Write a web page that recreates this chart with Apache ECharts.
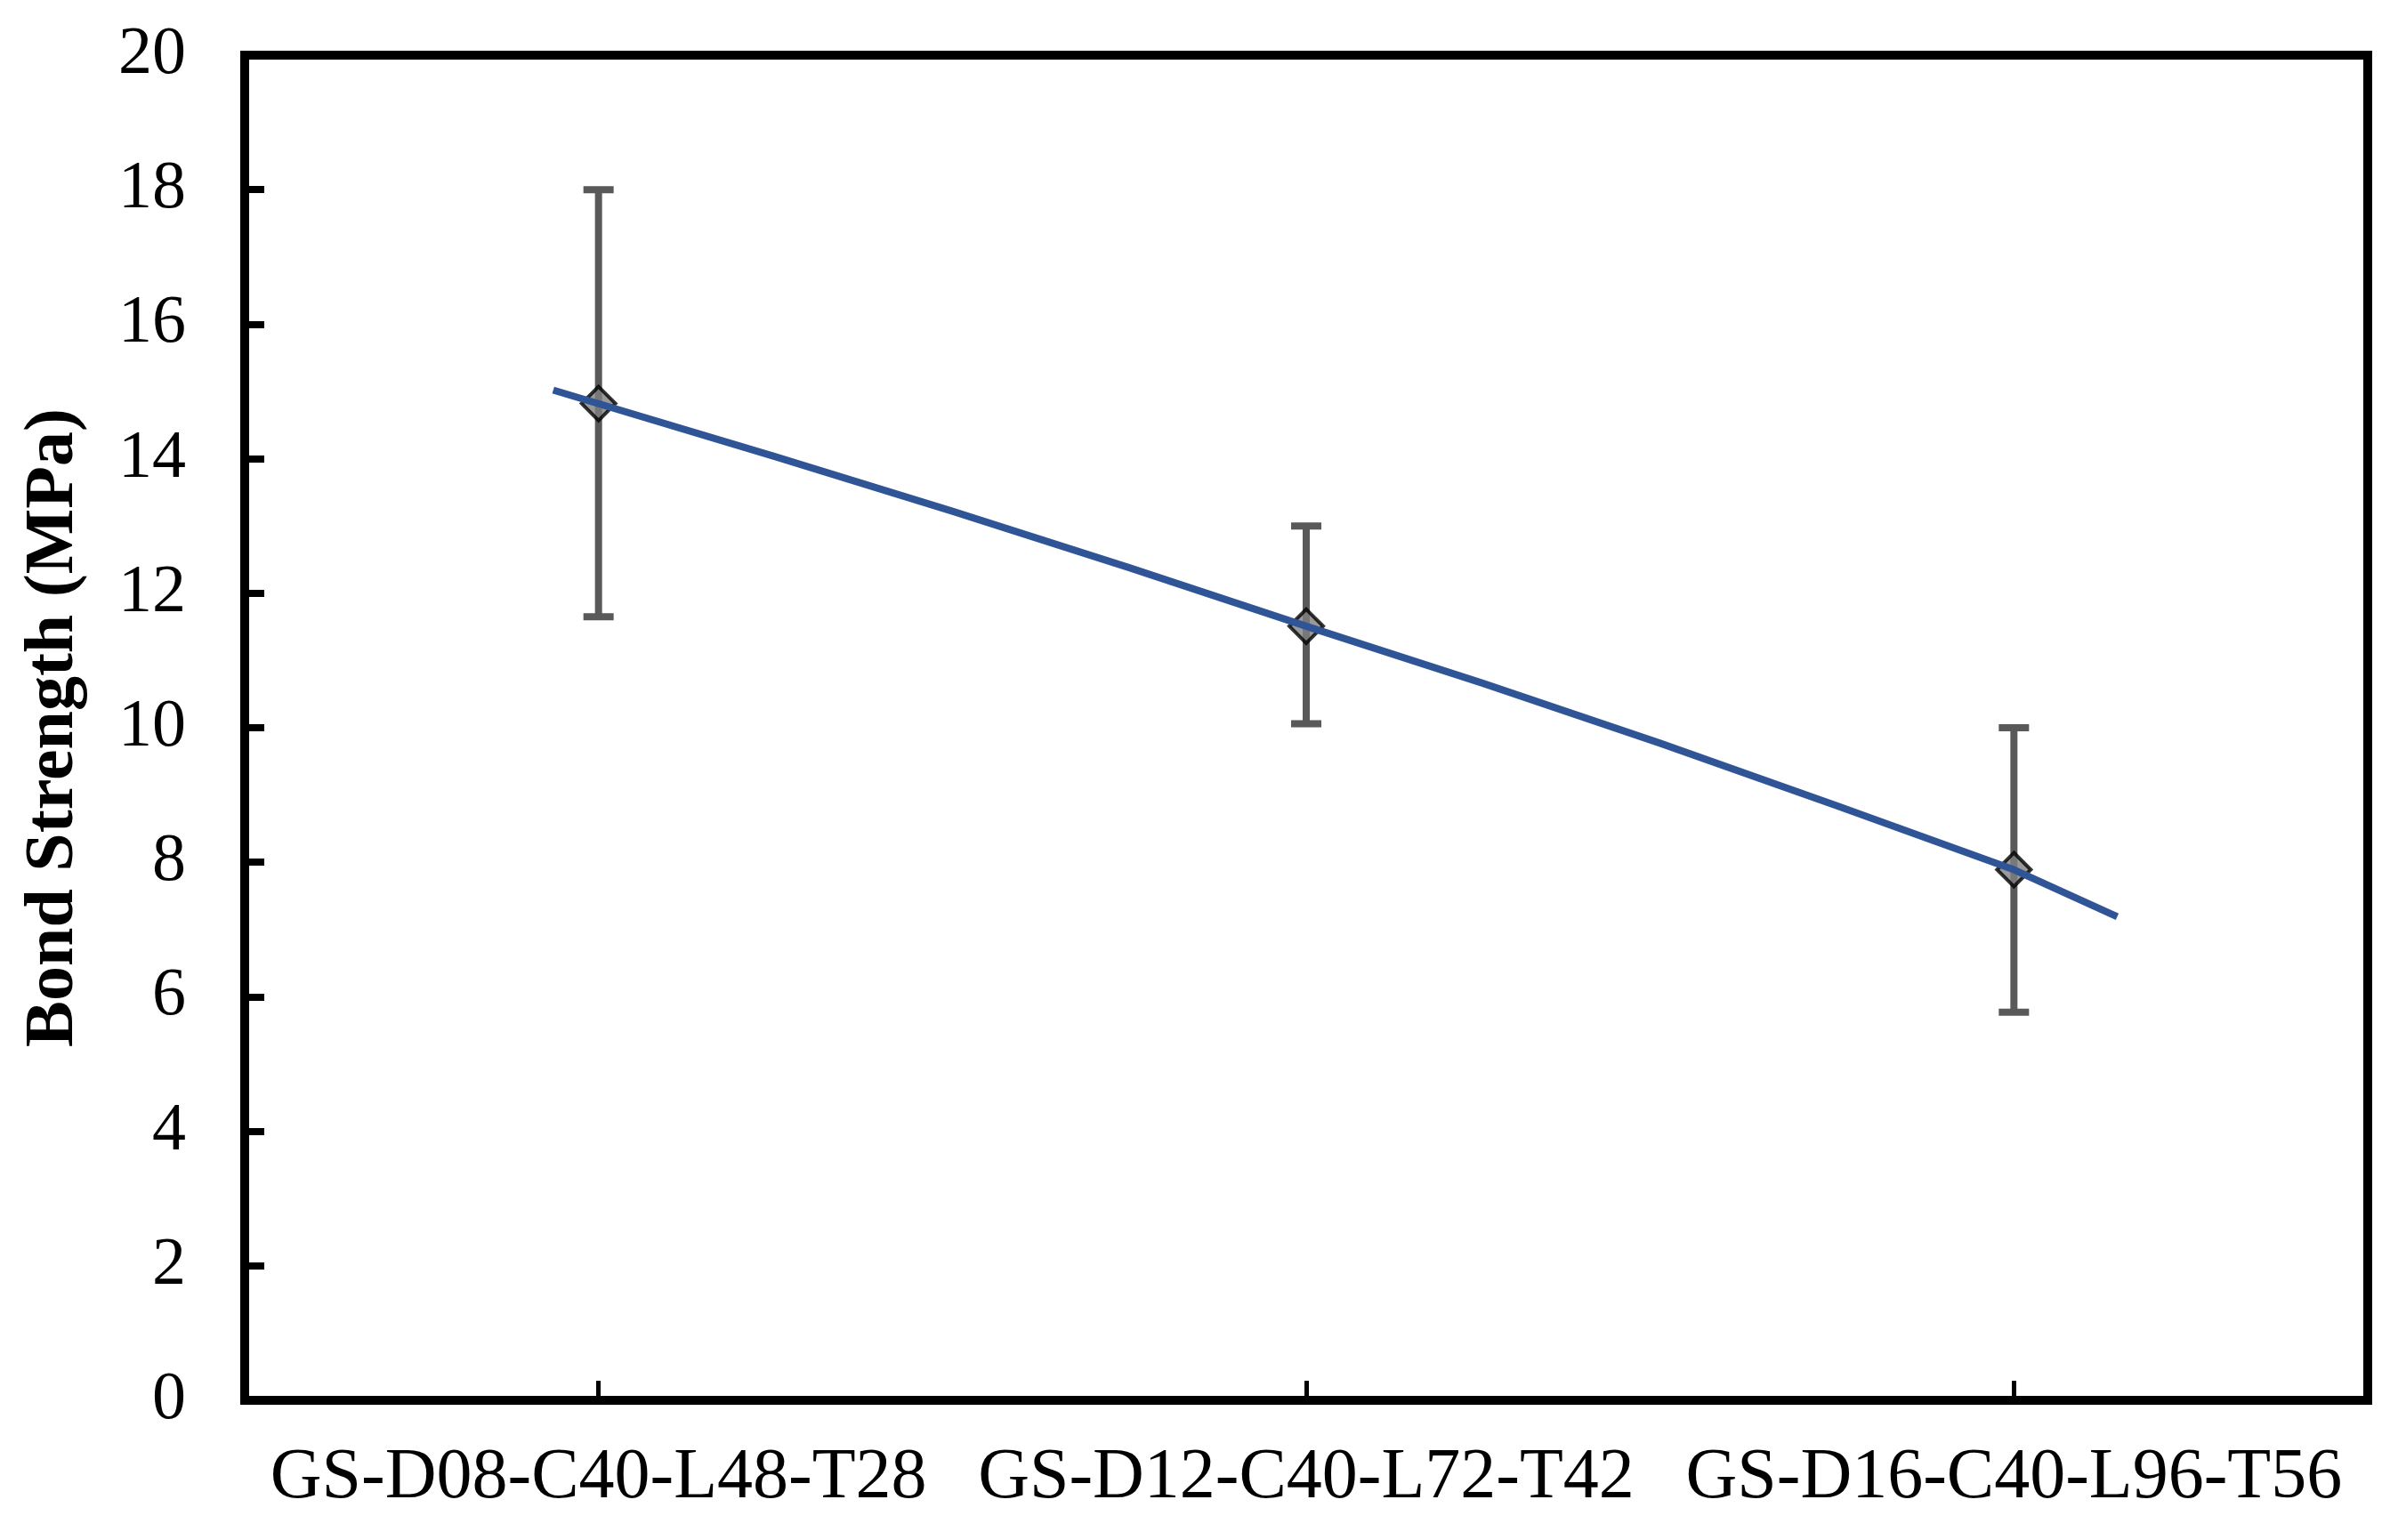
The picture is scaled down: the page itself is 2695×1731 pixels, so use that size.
<!DOCTYPE html>
<html>
<head>
<meta charset="utf-8">
<style>html,body{margin:0;padding:0;background:#fff}#chart{width:2695px;height:1731px}</style>
<script src="https://cdn.jsdelivr.net/npm/echarts@6/dist/echarts.min.js"></script>
</head>
<body>
<div id="chart"></div>
<script>
var categories = ['GS-D08-C40-L48-T28', 'GS-D12-C40-L72-T42', 'GS-D16-C40-L96-T56'];
var strength = [14.82, 11.51, 7.89];
var errUpper = [18.0, 13.0, 10.0];
var errLower = [11.65, 10.06, 5.77];
// trend line: position along the category axis, MPa
var trendX = [-0.064, 0.25, 0.5, 0.75, 1.0, 1.25, 1.5, 1.75, 2.0, 2.146];
var trendY = [15.02, 14.03, 13.22, 12.38, 11.51, 10.66, 9.77, 8.84, 7.89, 7.19];
var yMin = 0, yMax = 20, yStep = 2;

var myChart = echarts.init(document.getElementById('chart'));
var serif = '"Liberation Serif", "Times New Roman", serif';

var option = {
    backgroundColor: '#fff',
    animation: false,
    grid: {
        left: 275,
        right: 34,
        top: 62,
        bottom: 157,
        show: true,
        borderColor: '#000',
        borderWidth: 10
    },
    xAxis: [
        {
            type: 'category',
            data: categories,
            boundaryGap: true,
            axisLine: { show: false, onZero: false },
            axisTick: {
                show: true,
                alignWithLabel: true,
                inside: true,
                interval: 0,
                length: 22,
                lineStyle: { color: '#000', width: 5 }
            },
            axisLabel: {
                color: '#000',
                fontFamily: serif,
                fontSize: 80,
                interval: 0,
                margin: 48
            },
            splitLine: { show: false }
        },
        {
            type: 'value',
            min: -0.5,
            max: 2.5,
            show: false
        }
    ],
    yAxis: {
        type: 'value',
        min: yMin,
        max: yMax,
        interval: yStep,
        name: 'Bond Strength (MPa)',
        nameLocation: 'middle',
        nameGap: 175,
        nameTextStyle: {
            color: '#000',
            fontFamily: serif,
            fontSize: 78,
            fontWeight: 'bold'
        },
        axisLine: { show: false, onZero: false },
        axisTick: {
            show: true,
            inside: true,
            length: 22,
            lineStyle: { color: '#000', width: 8 }
        },
        axisLabel: {
            color: '#000',
            fontFamily: serif,
            fontSize: 76,
            margin: 66
        },
        splitLine: { show: false }
    },
    series: [
        {
            name: 'error',
            type: 'custom',
            z: 1,
            data: categories.map(function (c, i) { return [i, errUpper[i], errLower[i]]; }),
            encode: { x: 0, y: [1, 2] },
            renderItem: function (params, api) {
                var x = api.value(0);
                var hi = api.coord([x, api.value(1)]);
                var lo = api.coord([x, api.value(2)]);
                var half = 17;
                var style = { stroke: '#595959', lineWidth: 8 };
                return {
                    type: 'group',
                    children: [
                        { type: 'line', shape: { x1: hi[0], y1: hi[1], x2: lo[0], y2: lo[1] }, style: style },
                        { type: 'line', shape: { x1: hi[0] - half, y1: hi[1], x2: hi[0] + half, y2: hi[1] }, style: style },
                        { type: 'line', shape: { x1: lo[0] - half, y1: lo[1], x2: lo[0] + half, y2: lo[1] }, style: style }
                    ]
                };
            }
        },
        {
            name: 'Bond strength',
            type: 'scatter',
            z: 2,
            data: strength,
            symbol: 'diamond',
            symbolSize: 38,
            itemStyle: { color: '#7f7f7f', borderColor: '#000', borderWidth: 4 }
        },
        {
            name: 'trend',
            type: 'line',
            z: 3,
            xAxisIndex: 1,
            data: trendX.map(function (x, i) { return [x, trendY[i]]; }),
            showSymbol: false,
            smooth: false,
            lineStyle: { color: '#2f5597', width: 8, join: 'round' }
        }
    ]
};
myChart.setOption(option);
</script>
</body>
</html>
